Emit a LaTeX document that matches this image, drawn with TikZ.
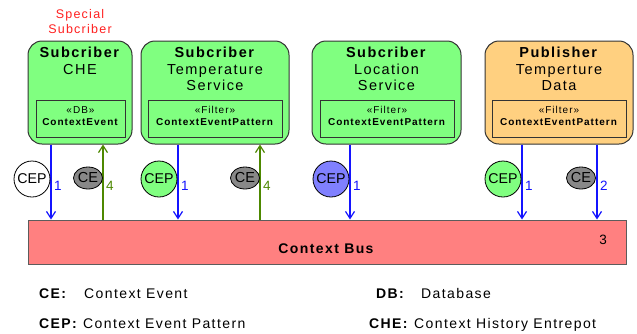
\documentclass[tikz,border=0pt]{standalone}
\usepackage{fontspec}
\setmainfont{Liberation Sans}
\newfontfamily\spaced[LetterSpace=10]{Liberation Sans}
\usetikzlibrary{arrows.meta,shapes.geometric}
\definecolor{boxgreen}{RGB}{128,255,128}
\definecolor{boxorange}{RGB}{255,208,128}
\definecolor{busred}{RGB}{255,128,128}
\definecolor{cepblue}{RGB}{128,128,255}
\definecolor{cegray}{RGB}{136,136,136}
\definecolor{flowblue}{RGB}{20,20,255}
\definecolor{flowgreen}{RGB}{77,136,0}
\definecolor{edgegray}{RGB}{51,51,51}
\definecolor{notered}{RGB}{255,32,32}
\begin{document}
\begin{tikzpicture}[x=1pt,y=-1pt,
  component/.style={draw=edgegray, line width=1pt, rounded corners=14pt,
    inner sep=0pt, minimum height=103pt},
  port/.style={draw=edgegray, line width=0.9pt, inner sep=0pt,
    minimum height=37pt},
  porttext/.style={inner sep=0pt, align=center,
    font=\spaced\fontsize{10}{12}\selectfont},
  title/.style={anchor=north, inner sep=0pt, align=center,
    font=\spaced\fontsize{14.5}{16.5}\selectfont},
  token/.style={circle, draw=black, line width=0.8pt, inner sep=0pt,
    minimum size=36pt, font=\fontsize{14.2}{16}\selectfont},
  event/.style={ellipse, draw=black, line width=0.8pt, fill=cegray,
    inner sep=0pt, minimum width=29pt, minimum height=22pt,
    font=\fontsize{14.5}{16}\selectfont},
  flow/.style={line width=1.2pt, -{Straight Barb[length=7pt,width=9pt]}},
  publish/.style={flow, draw=flowblue},
  deliver/.style={flow, draw=flowgreen},
  flowlabel/.style={inner sep=0pt, anchor=west, xshift=2.5pt,
    font=\fontsize{13.5}{14}\selectfont},
  legendkey/.style={anchor=base west, inner sep=0pt,
    font=\spaced\fontsize{14}{16}\selectfont\bfseries},
  legendval/.style={anchor=base west, inner sep=0pt,
    font=\spaced\fontsize{14}{16}\selectfont}]
\useasboundingbox[fill=white] (0,0) rectangle (637,333);

% components
\node[component, fill=boxgreen, minimum width=104pt] (che) at (80,92.5) {};
\node[component, fill=boxgreen, minimum width=148pt] (temp) at (215,92.5) {};
\node[component, fill=boxgreen, minimum width=149pt] (loc) at (386.5,92.5) {};
\node[component, fill=boxorange, minimum width=148pt] (pub) at (559,92.5) {};

\node[title] (cheT) at ([yshift=-6.5pt]che.north) {\textbf{Subcriber}\\CHE};
\node[title] (tempT) at ([yshift=-6.5pt]temp.north) {\textbf{Subcriber}\\Temperature\\Service};
\node[title] (locT) at ([yshift=-6.5pt]loc.north) {\textbf{Subcriber}\\Location\\Service};
\node[title] (pubT) at ([yshift=-6.5pt]pub.north) {\textbf{Publisher}\\Temperture\\Data};

\node[inner sep=0pt, align=center, text=notered,
  font=\spaced\fontsize{12.5}{15}\selectfont] (special) at (80,22) {Special\\Subcriber};

% ports inside the components
\node[port, minimum width=89pt] (cheP) at (80.5,118.5) {};
\node[port, minimum width=134pt] (tempP) at (215,118.5) {};
\node[port, minimum width=134pt] (locP) at (387,118.5) {};
\node[port, minimum width=134pt] (pubP) at (559,118.5) {};
\node[porttext] at ([yshift=2.5pt]cheP.center) {«DB»\\\textbf{ContextEvent}};
\node[porttext] at ([yshift=2.5pt]tempP.center) {«Filter»\\\textbf{ContextEventPattern}};
\node[porttext] at ([yshift=2.5pt]locP.center) {«Filter»\\\textbf{ContextEventPattern}};
\node[porttext] at ([yshift=2.5pt]pubP.center) {«Filter»\\\textbf{ContextEventPattern}};

% bus
\node[draw=edgegray!80, line width=1pt, fill=busred, inner sep=0pt,
  minimum width=598pt, minimum height=44pt] (bus) at (327,242) {};
\node[inner sep=0pt, font=\spaced\fontsize{14}{16}\selectfont\bfseries]
  (busT) at (326,249) {Context Bus};
\node[inner sep=0pt, font=\fontsize{13.5}{14}\selectfont] (step3) at (603,240) {3};

% flows between components and bus
\coordinate (f1) at (51,0);
\coordinate (f2) at (103,0);
\coordinate (f3) at (178,0);
\coordinate (f4) at (260,0);
\coordinate (f5) at (350,0);
\coordinate (f6) at (522,0);
\coordinate (f7) at (597,0);
\draw[publish] (f1 |- che.south) -- (f1 |- bus.north)
  node[flowlabel, text=flowblue, pos=0.55] {1};
\draw[deliver] (f2 |- bus.north) -- (f2 |- che.south)
  node[flowlabel, text=flowgreen, pos=0.45] {4};
\draw[publish] (f3 |- temp.south) -- (f3 |- bus.north)
  node[flowlabel, text=flowblue, pos=0.55] {1};
\draw[deliver] (f4 |- bus.north) -- (f4 |- temp.south)
  node[flowlabel, text=flowgreen, pos=0.45] {4};
\draw[publish] (f5 |- loc.south) -- (f5 |- bus.north)
  node[flowlabel, text=flowblue, pos=0.55] {1};
\draw[publish] (f6 |- pub.south) -- (f6 |- bus.north)
  node[flowlabel, text=flowblue, pos=0.55] {1};
\draw[publish] (f7 |- pub.south) -- (f7 |- bus.north)
  node[flowlabel, text=flowblue, pos=0.55] {2};

% message tokens
\node[token, fill=white] (cep1) at (32,179) {CEP};
\node[event] (ce1) at (88,178) {CE};
\node[token, fill=boxgreen] (cep2) at (159,179) {CEP};
\node[event] (ce2) at (245,178) {CE};
\node[token, fill=cepblue] (cep3) at (331,179) {CEP};
\node[token, fill=boxgreen] (cep4) at (503,179) {CEP};
\node[event] (ce3) at (581,178) {CE};

% legend
\node[legendkey] (kCE) at (39,298) {CE:};
\node[legendval] (vCE) at (84,298) {Context Event};
\node[legendkey] (kCEP) at (39,328) {CEP:};
\node[legendval] (vCEP) at (83,328) {Context Event Pattern};
\node[legendkey] (kDB) at (376,298) {DB:};
\node[legendval] (vDB) at (421,298) {Database};
\node[legendkey] (kCHE) at (369,328) {CHE:};
\node[legendval] (vCHE) at (414,328) {Context History Entrepot};
\end{tikzpicture}
\end{document}
